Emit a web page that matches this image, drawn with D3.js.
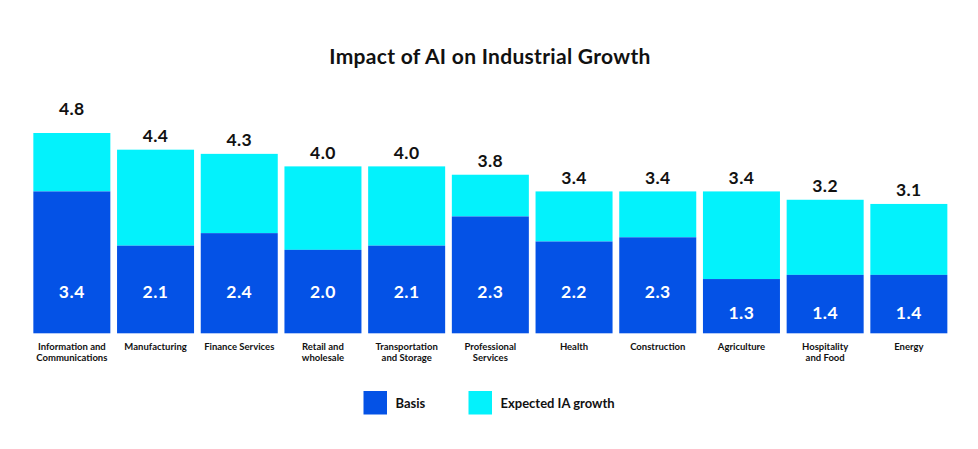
<!DOCTYPE html>
<html>
<head>
<meta charset="utf-8">
<script src="https://cdn.jsdelivr.net/npm/d3@7"></script>
<style>
  body { margin: 0; background: #fff; }
  svg { display: block; font-family: Lato, "Open Sans", sans-serif; }
</style>
</head>
<body>
<svg id="chart" width="978" height="449"></svg>
<script>
// categories, each label split into its two lines
const categories = [
    ["Information and", "Communications"],
    ["Manufacturing"],
    ["Finance Services"],
    ["Retail and", "wholesale"],
    ["Transportation", "and Storage"],
    ["Professional", "Services"],
    ["Health"],
    ["Construction"],
    ["Agriculture"],
    ["Hospitality", "and Food"],
    ["Energy"]
]
// basis segment as drawn (professional services is drawn taller than its 2.3 label)
const basis = [3.4, 2.1, 2.4, 2.0, 2.1, 2.8, 2.2, 2.3, 1.3, 1.4, 1.4]
const basisLabels = ["3.4", "2.1", "2.4", "2.0", "2.1", "2.3", "2.2", "2.3", "1.3", "1.4", "1.4"]
const totals = [4.8, 4.4, 4.3, 4.0, 4.0, 3.8, 3.4, 3.4, 3.4, 3.2, 3.1]
const legendItems = ["Basis", "Expected IA growth"]

const BLUE = "#0452e6"
const CYAN = "#03f2fc"

var svg = d3.select("#chart")

var x = d3.scaleBand()
    .domain(d3.range(categories.length))
    .range([30, 950.7])
    .paddingInner(0.08)
    .paddingOuter(0.04)

var y = d3.scaleLinear()
    .domain([0, 4.8])
    .range([333.3, 133])

svg.append("text")
    .attr("x", 490)
    .attr("y", 64)
    .attr("text-anchor", "middle")
    .attr("font-size", 21)
    .attr("font-weight", 700)
    .attr("letter-spacing", 0.3)
    .attr("fill", "#111")
    .text("Impact of AI on Industrial Growth")

var bars = svg.append("g")
    .selectAll("g")
    .data(totals)
    .join("g")

// expected growth goes on top of the basis, up to the total
bars.append("rect")
    .attr("x", (d, i) => x(i))
    .attr("width", x.bandwidth())
    .attr("y", d => y(d))
    .attr("height", (d, i) => y(basis[i]) - y(d))
    .attr("fill", CYAN)

bars.append("rect")
    .attr("x", (d, i) => x(i))
    .attr("width", x.bandwidth())
    .attr("y", (d, i) => y(basis[i]))
    .attr("height", (d, i) => y(0) - y(basis[i]))
    .attr("fill", BLUE)

bars.append("text")
    .attr("x", (d, i) => x(i) + x.bandwidth() / 2)
    .attr("y", (d, i) => y(d) - (i == 0 ? 18.5 : 7.5))
    .attr("text-anchor", "middle")
    .attr("font-size", 17.5)
    .attr("font-weight", 700)
    .attr("letter-spacing", 0.4)
    .attr("fill", "#111")
    .text(d => d.toFixed(1))

bars.append("text")
    .attr("x", (d, i) => x(i) + x.bandwidth() / 2)
    .attr("y", (d, i) => y(basis[i] >= 2 ? 1 : 0.5) + 6.3)
    .attr("text-anchor", "middle")
    .attr("font-size", 17.5)
    .attr("font-weight", 700)
    .attr("letter-spacing", 0.5)
    .attr("fill", "#fff")
    .text((d, i) => basisLabels[i])

var labels = svg.append("g")
    .selectAll("text")
    .data(categories)
    .join("text")
    .attr("x", (d, i) => x(i) + x.bandwidth() / 2)
    .attr("y", 350)
    .attr("text-anchor", "middle")
    .attr("font-size", 9.5)
    .attr("font-weight", 700)
    .attr("fill", "#111")

labels.selectAll("tspan")
    .data(d => d)
    .join("tspan")
    .attr("x", function () { return this.parentNode.getAttribute("x") })
    .attr("dy", (d, i) => i == 0 ? 0 : 11)
    .text(d => d)

var legend = svg.append("g")
    .selectAll("g")
    .data(legendItems)
    .join("g")
    .attr("transform", (d, i) => `translate(${363.5 + i * 105},391)`)

legend.append("rect")
    .attr("width", 23.5)
    .attr("height", 23.5)
    .attr("fill", (d, i) => i == 0 ? BLUE : CYAN)

legend.append("text")
    .attr("x", 32)
    .attr("y", 16.5)
    .attr("font-size", 13)
    .attr("font-weight", 700)
    .attr("fill", "#111")
    .text(d => d)
</script>
</body>
</html>
